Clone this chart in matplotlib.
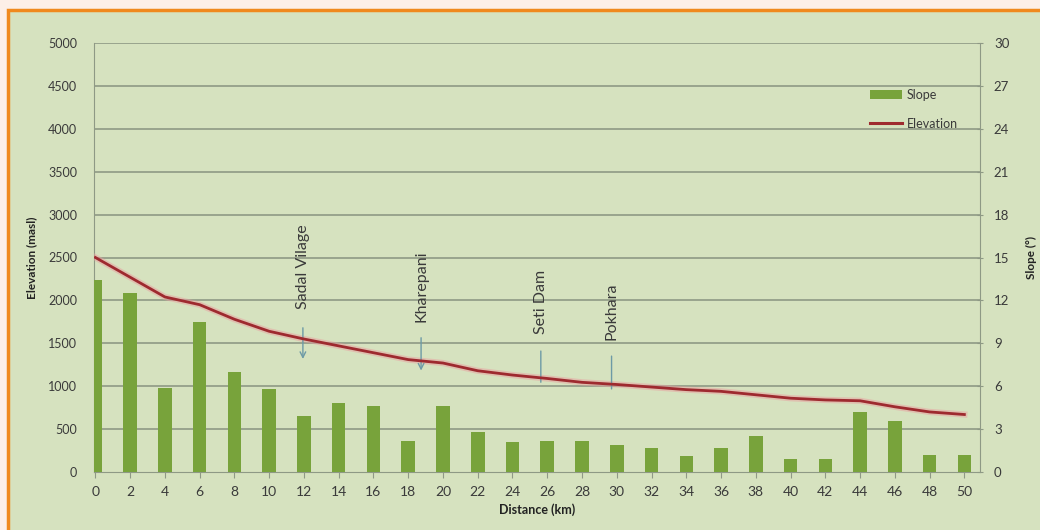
import numpy as np
import matplotlib.pyplot as plt
from matplotlib.patches import Rectangle

# distance along the profile (km)
distance = [0, 2, 4, 6, 8, 10, 12, 14, 16, 18, 20, 22, 24, 26, 28, 30, 32, 34, 36, 38, 40, 42, 44, 46, 48, 50]
# slope (degrees), right axis
slope = [13.4, 12.5, 5.9, 10.5, 7.0, 5.8, 3.9, 4.8, 4.6, 2.2, 4.6, 2.8, 2.1, 2.2, 2.2, 1.9, 1.7, 1.1, 1.7, 2.5, 0.9, 0.9, 4.2, 3.6, 1.2, 1.2]
# elevation (masl), left axis
elevation = [2500, 2270, 2040, 1950, 1780, 1640, 1550, 1470, 1390, 1310, 1270, 1180, 1130, 1090, 1045, 1020, 990, 960, 940, 900, 860, 840, 830, 760, 700, 670]

# places marked along the route
place_names = ["Sadal Vilage", "Kharepani", "Seti Dam", "Pokhara"]
place_km = [11.94, 18.74, 25.63, 29.7]
place_text_y = [2390, 2165, 1980, 1877]
place_arrow = [(1713, 1285), (1597, 1150), (1442, 1014), (1383, 936)]
place_head = [True, True, False, False]

bg = "#d6e2bf"
grid_c = "#8e9985"
txt_c = "#3a3a3a"
plt.rcParams['font.family'] = ['Lato', 'DejaVu Sans']

fig = plt.figure(figsize=(10.4, 5.3), dpi=100)
fig.patch.set_facecolor("#fdefe7")
border = Rectangle((8 / 1040, -0.1), 1.2, 1.1 - 10 / 530, transform=fig.transFigure,
                   facecolor=bg, edgecolor="#f0891d", linewidth=2.5, zorder=-5)
fig.add_artist(border)

ax = fig.add_axes([94 / 1040, 1 - 472 / 530, 886 / 1040, 429 / 530])
ax.set_facecolor(bg)
ax2 = ax.twinx()

ax.set_ylim(0, 5000)
ax.set_yticks(np.arange(0, 5001, 500))
ax2.set_ylim(0, 30)
ax2.set_yticks(np.arange(0, 31, 3))
ax.set_xlim(-0.08, 50.9)
ax.set_xticks(distance)

for y in np.arange(500, 5001, 500):
    ax.axhline(y, color=grid_c, linewidth=1.2, zorder=1)

# slope bars drawn on the secondary axis
bars = ax2.bar(distance, slope, width=0.78, color="#78a33b", zorder=2, label="Slope")
elev_handle, = ax2.plot([], [], color="#9e2a2f", linewidth=2.2, label="Elevation")

ax3 = ax.twinx()
ax3.set_ylim(0, 5000)
ax3.axis("off")
ax3.plot(distance, elevation, color="#e8a0a0", linewidth=4.5, alpha=0.5, zorder=3)
ax3.plot(distance, elevation, color="#9e2a2f", linewidth=2.0, zorder=4)

for name, x, ty, (a0, a1), head in zip(place_names, place_km, place_text_y, place_arrow, place_head):
    ax3.text(x, ty, name, rotation=90, ha="center", va="center", fontsize=11.5, color=txt_c)
    ax3.annotate("", xy=(x, a1), xytext=(x, a0),
                 arrowprops=dict(arrowstyle="->" if head else "-", color="#6d9aa6", lw=1.0))

for a in (ax, ax2):
    for s in a.spines.values():
        s.set_visible(False)
ax.spines['left'].set_visible(True)
ax.spines['left'].set_color(grid_c)
ax.spines['bottom'].set_visible(True)
ax.spines['bottom'].set_color(grid_c)
ax2.spines['right'].set_visible(True)
ax2.spines['right'].set_color(grid_c)

ax.tick_params(axis="y", length=0, labelsize=9, labelcolor=txt_c, pad=12)
ax.tick_params(axis="x", length=4, color=grid_c, labelsize=10, labelcolor=txt_c, pad=6)
ax2.tick_params(axis="y", length=4, direction="inout", color=grid_c, labelsize=9.5, labelcolor=txt_c, pad=8)

ax.set_ylabel("Elevation (masl)", fontsize=8.5, fontweight="bold", color="#222222", labelpad=8)
ax2.set_ylabel("Slope (°)", fontsize=8.5, fontweight="bold", color="#222222", rotation=90, labelpad=12)
ax.set_xlabel("Distance (km)", fontsize=9, fontweight="bold", color="#222222", labelpad=4)

leg = ax2.legend([bars, elev_handle], ["Slope", "Elevation"], loc="upper left",
                 bbox_to_anchor=(0.87, 0.905), frameon=False, fontsize=9,
                 handlelength=2.6, labelspacing=1.35, handletextpad=0.35, borderaxespad=0)
for t in leg.get_texts():
    t.set_color(txt_c)

fig.savefig("out.png", dpi=100, facecolor=fig.get_facecolor())
